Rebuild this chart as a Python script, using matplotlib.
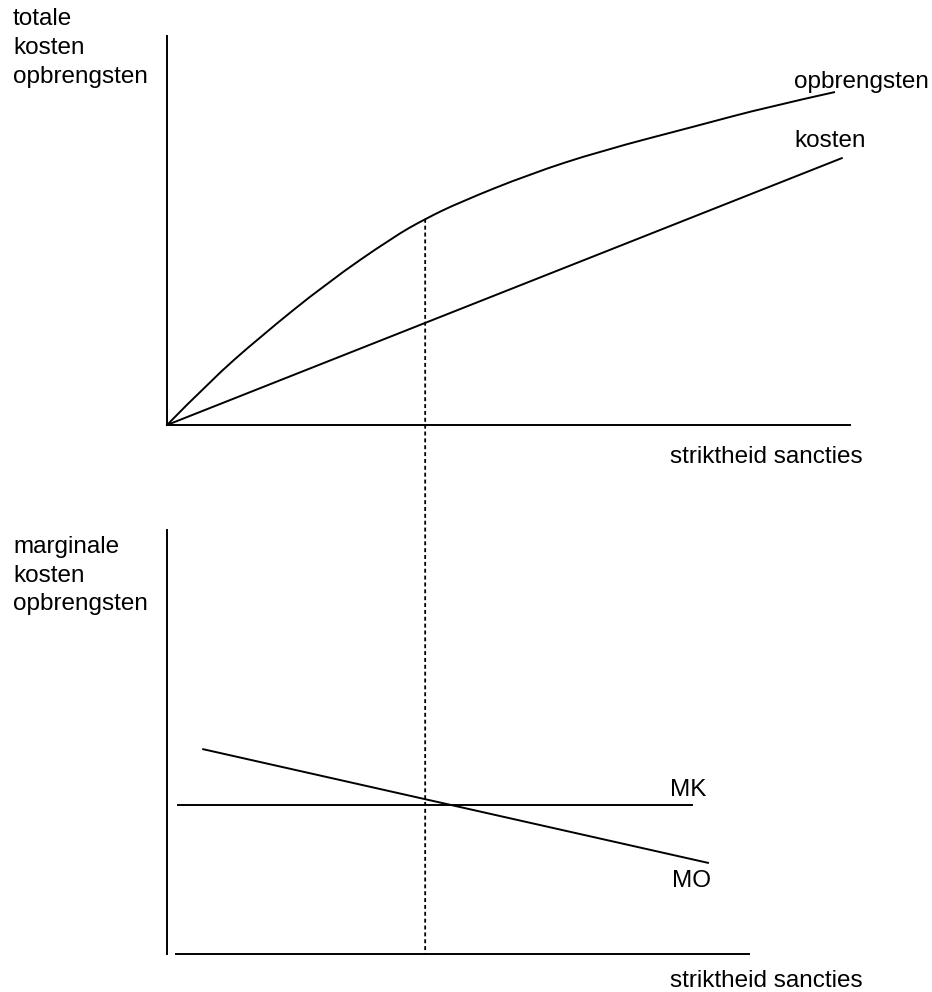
import matplotlib
matplotlib.use("Agg")
import matplotlib.pyplot as plt
from matplotlib.patches import ConnectionPatch, PathPatch
from matplotlib.path import Path

# ---------------- data (schematic units 0..10) ----------------
strictheid_opb = [0, 0.63, 1.36, 2.34, 3.31, 3.78, 4.29, 5.31, 6.34, 7.80, 8.78, 9.78]
opbrengsten = [0, 1.13, 2.26, 3.65, 4.83, 5.30, 5.73, 6.45, 7.04, 7.71, 8.17, 8.56]

strictheid_kost = [0, 9.88]
kosten = [0, 6.86]

mk_x = [0.16, 7.69]
mk_y = [3.51, 3.51]

mo_x = [0.53, 7.92]
mo_y = [4.83, 2.15]

x_optimum = 3.78
y_optimum = 5.30

# ---------------- figure ----------------
W, H = 932, 992
fig = plt.figure(figsize=(W / 100, H / 100), dpi=100)
fig.patch.set_facecolor("white")

FONT = dict(family=["Liberation Sans", "DejaVu Sans"], size=17.5, color="black")
LW = 1.4


def px_axes(left, top, right, bottom):
    return fig.add_axes([left / W, 1 - bottom / H, (right - left) / W, (bottom - top) / H])


def style(ax):
    ax.set_xlim(0, 10)
    ax.set_ylim(0, 10)
    for s in ("top", "right"):
        ax.spines[s].set_visible(False)
    for s in ("left", "bottom"):
        ax.spines[s].set_linewidth(LW)
        ax.spines[s].set_color("black")
    ax.set_xticks([])
    ax.set_yticks([])
    ax.patch.set_alpha(0)


def smooth_path(xs, ys):
    """Quadratic B-spline style path through the read points (drawn by Path)."""
    pts = list(zip(xs, ys))
    verts = [pts[0]]
    codes = [Path.MOVETO]
    n = len(pts)
    for i in range(1, n - 1):
        end = pts[i + 1] if i == n - 2 else ((pts[i][0] + pts[i + 1][0]) / 2,
                                              (pts[i][1] + pts[i + 1][1]) / 2)
        verts += [pts[i], end]
        codes += [Path.CURVE3, Path.CURVE3]
    return Path(verts, codes)


def label(x, y, s):
    fig.text(x / W, 1 - y / H, s, ha="left", va="baseline", **FONT)


# top panel
ax1 = px_axes(167, 36, 850, 425)
style(ax1)
ax1.add_patch(PathPatch(smooth_path(strictheid_opb, opbrengsten), facecolor="none",
                        edgecolor="black", lw=LW, clip_on=False))
ax1.plot(strictheid_kost, kosten, color="black", lw=LW, clip_on=False)

# bottom panel
ax2 = px_axes(167, 530, 850, 954)
style(ax2)
ax2.spines["bottom"].set_bounds(0.13, 8.52)
ax2.plot(mk_x, mk_y, color="black", lw=LW, clip_on=False)
ax2.plot(mo_x, mo_y, color="black", lw=LW, clip_on=False)

# dashed connector from optimum down to bottom axis
con = ConnectionPatch(xyA=(x_optimum, y_optimum), coordsA=ax1.transData,
                      xyB=(x_optimum, 0), coordsB=ax2.transData,
                      color="black", lw=1.3, linestyle=(0, (2.2, 1.6)),
                      capstyle="butt")
fig.add_artist(con)

# texts
label(13, 25, "totale")
label(13, 54, "kosten")
label(13, 83, "opbrengsten")
label(794, 88, "opbrengsten")
label(794, 147, "kosten")
label(670, 463, "striktheid sancties")

label(13, 553, "marginale")
label(13, 582, "kosten")
label(13, 610, "opbrengsten")
label(670, 796, "MK")
label(672, 887, "MO")
label(670, 987, "striktheid sancties")

fig.savefig("out.png", dpi=100, facecolor="white")
